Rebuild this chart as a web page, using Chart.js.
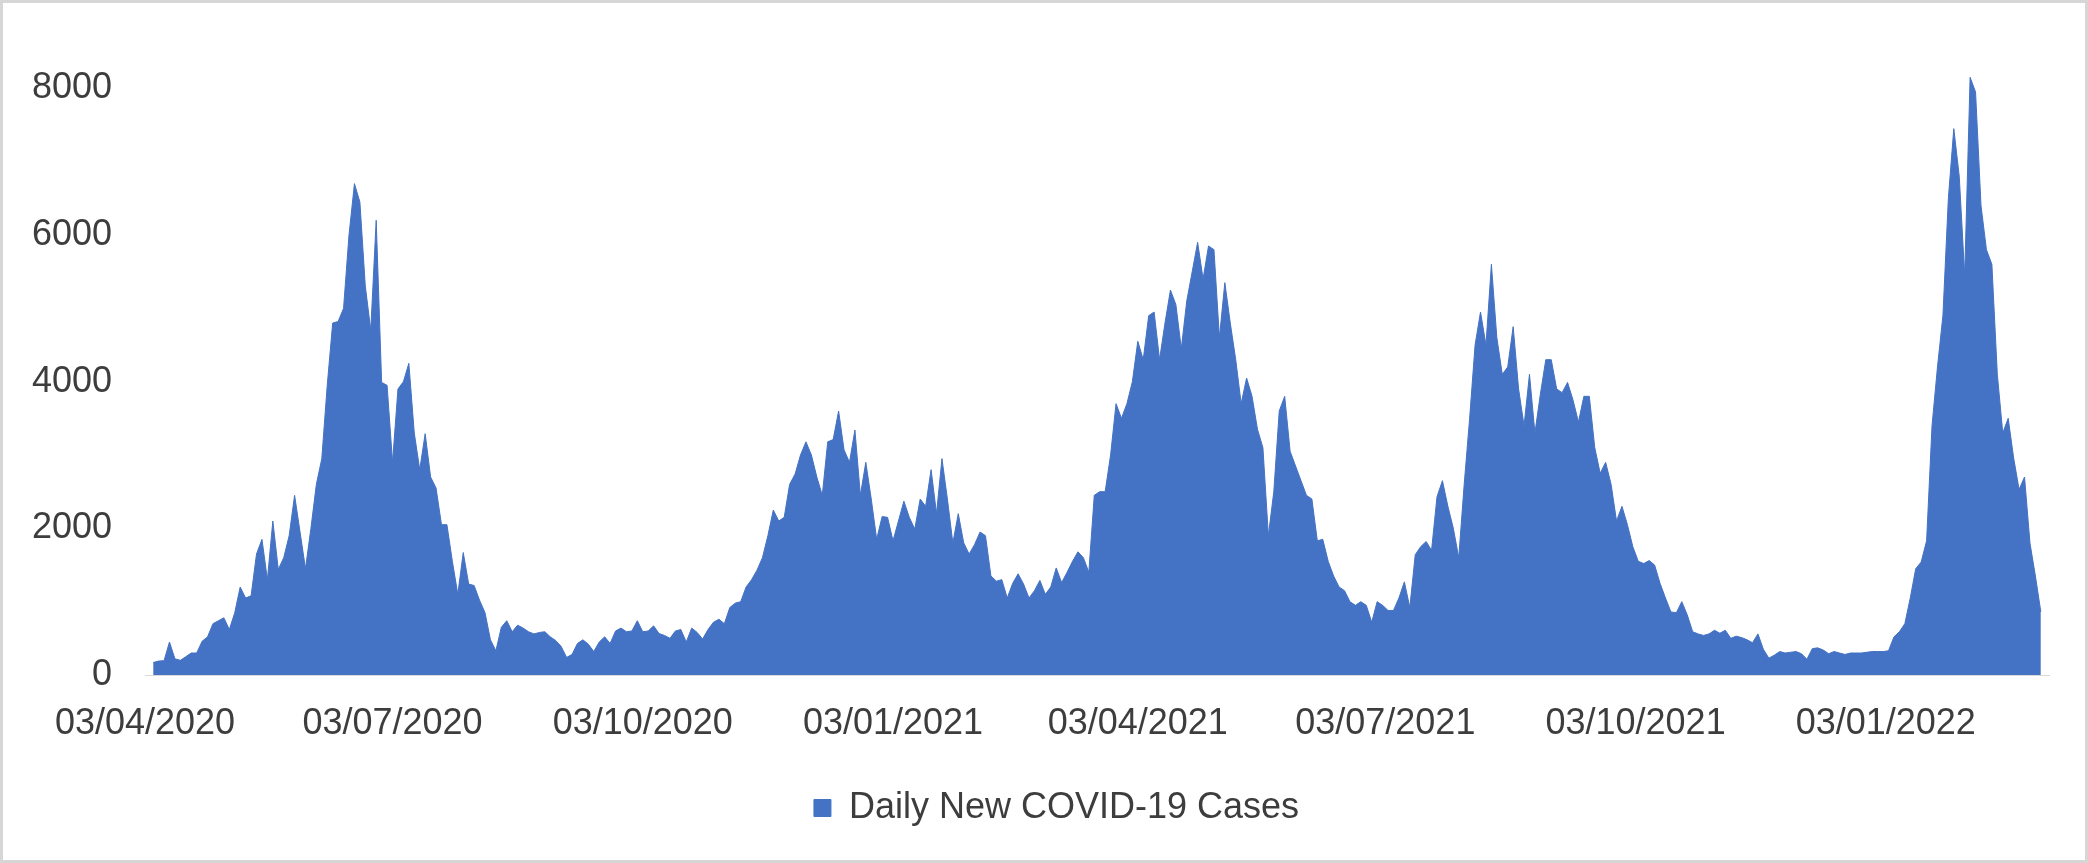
<!DOCTYPE html>
<html>
<head>
<meta charset="utf-8">
<script src="https://cdn.jsdelivr.net/npm/chart.js@4.4.1/dist/chart.umd.min.js"></script>
<style>
  html, body { margin: 0; padding: 0; background: #fff; }
  #wrap { width: 2088px; height: 863px; }
</style>
</head>
<body>
<div id="wrap"><canvas id="casesChart" width="2088" height="863"></canvas></div>
<script>
// Data (one reading every 2 days)
const seriesLabel = 'Daily New COVID-19 Cases';
const axisStart = '2020-04-03';
const firstDate = '2020-04-06';
const stepDays = 2;
const dailyCases = [
    170, 190, 195, 450, 220, 200, 250, 300, 300, 460, 520, 700, 740, 780, 620, 850,
    1200, 1050, 1080, 1650, 1850, 1300, 2100, 1440, 1600, 1900, 2450, 1950, 1450, 2000, 2600, 2950,
    3950, 4800, 4820, 5000, 6000, 6700, 6450, 5300, 4700, 6200, 3990, 3950,
    2900, 3900, 4000, 4250, 3300, 2800, 3290, 2700, 2550, 2050, 2050, 1550, 1100, 1670, 1240, 1220,
    1020, 850, 480, 330, 650, 740, 590, 680, 640, 590, 560, 580, 590, 520, 470, 390,
    240, 280, 430, 480, 420, 320, 450, 520, 430, 600, 640, 590,
    600, 740, 590, 600, 670, 565, 540, 500, 600, 620, 450, 640, 580, 490, 620, 720,
    760, 700, 920, 980, 1000, 1200, 1300, 1430, 1600, 1900, 2250, 2100, 2150, 2600, 2740, 3000,
    3180, 3000, 2700, 2450, 3180, 3210, 3600, 3070, 2900, 3340, 2450, 2900,
    2400, 1850, 2160, 2150, 1830, 2100, 2370, 2150, 1990, 2400, 2300, 2800, 2200, 2950, 2400, 1800,
    2200, 1800, 1650, 1780, 1950, 1900, 1350, 1280, 1300, 1050, 1250, 1380, 1240, 1050, 1150, 1290,
    1100, 1200, 1460, 1260, 1400, 1550, 1680, 1600, 1400, 2450, 2500,
    2500, 3000, 3700, 3500, 3700, 4000, 4550, 4300, 4900, 4950, 4300, 4800, 5250, 5050, 4450, 5100,
    5500, 5900, 5400, 5850, 5800, 4600, 5350, 4800, 4300, 3700, 4050, 3800, 3350, 3100, 1900, 2500,
    3600, 3800, 3050, 2850, 2650, 2450, 2400, 1830, 1850, 1550, 1350, 1200, 1150,
    1000, 950, 1000, 950, 720, 1000, 950, 880, 880, 1050, 1270, 920, 1640, 1750, 1820, 1700,
    2430, 2650, 2300, 2000, 1600, 2600, 3500, 4500, 4950, 4500, 5600, 4600, 4100, 4200, 4750, 3900,
    3400, 4100, 3300, 3830, 4300, 4300, 3900, 3850, 3990, 3750, 3450, 3800,
    3800, 3100, 2750, 2900, 2600, 2100, 2300, 2050, 1750, 1550, 1520, 1560, 1500, 1250, 1050, 860,
    850, 1000, 820, 590, 560, 540, 560, 610, 570, 610, 500, 530, 510, 480, 440, 560,
    350, 230, 270, 320, 300, 310, 320, 290, 215, 360, 370, 340,
    290, 320, 300, 280, 300, 300, 300, 310, 320, 320, 320, 330, 520, 590, 700, 1050,
    1450, 1540, 1830, 3400, 4200, 4900, 6500, 7450, 6800, 5450, 8150, 7950, 6400, 5800, 5600, 4100,
    3300, 3500, 2960, 2530, 2700, 1800, 1350, 860
];
const tickDates = ['2020-04-03', '2020-07-03', '2020-10-03', '2021-01-03',
    '2021-04-03', '2021-07-03', '2021-10-03', '2022-01-03'];
const tickLabels = ['03/04/2020', '03/07/2020', '03/10/2020', '03/01/2021',
    '03/04/2021', '03/07/2021', '03/10/2021', '03/01/2022'];
const yTicks = [0, 2000, 4000, 6000, 8000];

// Helpers
function dayOffset(iso) {
    return Math.round((Date.parse(iso) - Date.parse(axisStart)) / 864e5);
}

const firstDay = dayOffset(firstDate);
const tickDays = tickDates.map(dayOffset);
const points = dailyCases.map((v, i) => ({ x: firstDay + i * stepDays, y: v }));

const textColor = '#3d3d3d';
const fontFamily = "'Liberation Sans', Arial, sans-serif";

// Light frame round the chart
const framePlugin = {
    id: 'frame',
    beforeDraw(chart) {
        const { ctx, width, height } = chart;
        ctx.save();
        ctx.fillStyle = '#ffffff';
        ctx.fillRect(0, 0, width, height);
        ctx.strokeStyle = '#d6d6d6';
        ctx.lineWidth = 3;
        ctx.strokeRect(1.5, 1.5, width - 3, height - 3);
        ctx.restore();
    }
};

// The legend sits a little right of the canvas centre in the original
const legendShift = {
    id: 'legendShift',
    afterLayout(chart) {
        chart.legend.left += 32;
        chart.legend.right += 32;
    }
};

// Keep the plot area where it is, no auto padding for tick labels
function noPadding(axis) {
    axis.paddingTop = 0;
    axis.paddingBottom = 0;
    axis.paddingLeft = 0;
    axis.paddingRight = 0;
}

const ctx = document.getElementById('casesChart').getContext('2d');
const chart = new Chart(ctx, {
    type: 'line',
    data: {
        datasets: [{
            label: seriesLabel,
            data: points,
            fill: 'origin',
            backgroundColor: '#4472C4',
            borderColor: '#4472C4',
            borderWidth: 1,
            pointRadius: 0,
            tension: 0
        }]
    },
    options: {
        responsive: false,
        animation: false,
        layout: {
            padding: { left: 0, right: 39, top: 37, bottom: 27 }
        },
        plugins: {
            legend: {
                position: 'bottom',
                labels: {
                    boxWidth: 17,
                    boxHeight: 17,
                    padding: 10,
                    color: textColor,
                    font: { family: fontFamily, size: 36 }
                }
            },
            tooltip: { enabled: false }
        },
        scales: {
            x: {
                type: 'linear',
                min: 0,
                max: 700,
                afterBuildTicks: (axis) => {
                    axis.ticks = tickDays.map(v => ({ value: v }));
                },
                afterFit: (axis) => {
                    axis.height = 105;
                    noPadding(axis);
                },
                ticks: {
                    autoSkip: false,
                    maxRotation: 0,
                    padding: 27,
                    color: textColor,
                    font: { family: fontFamily, size: 36 },
                    callback: (v, i) => tickLabels[i]
                },
                grid: { display: false, drawTicks: false },
                border: { display: true, color: '#d9d9d9', width: 1 }
            },
            y: {
                min: 0,
                max: 8700,
                afterBuildTicks: (axis) => {
                    axis.ticks = yTicks.map(v => ({ value: v }));
                },
                afterFit: (axis) => {
                    axis.width = 145;
                    noPadding(axis);
                },
                ticks: {
                    padding: 33,
                    color: textColor,
                    font: { family: fontFamily, size: 36 },
                    callback: (v) => String(v)
                },
                grid: { display: false, drawTicks: false },
                border: { display: false }
            }
        }
    },
    plugins: [framePlugin, legendShift]
});
</script>
</body>
</html>
